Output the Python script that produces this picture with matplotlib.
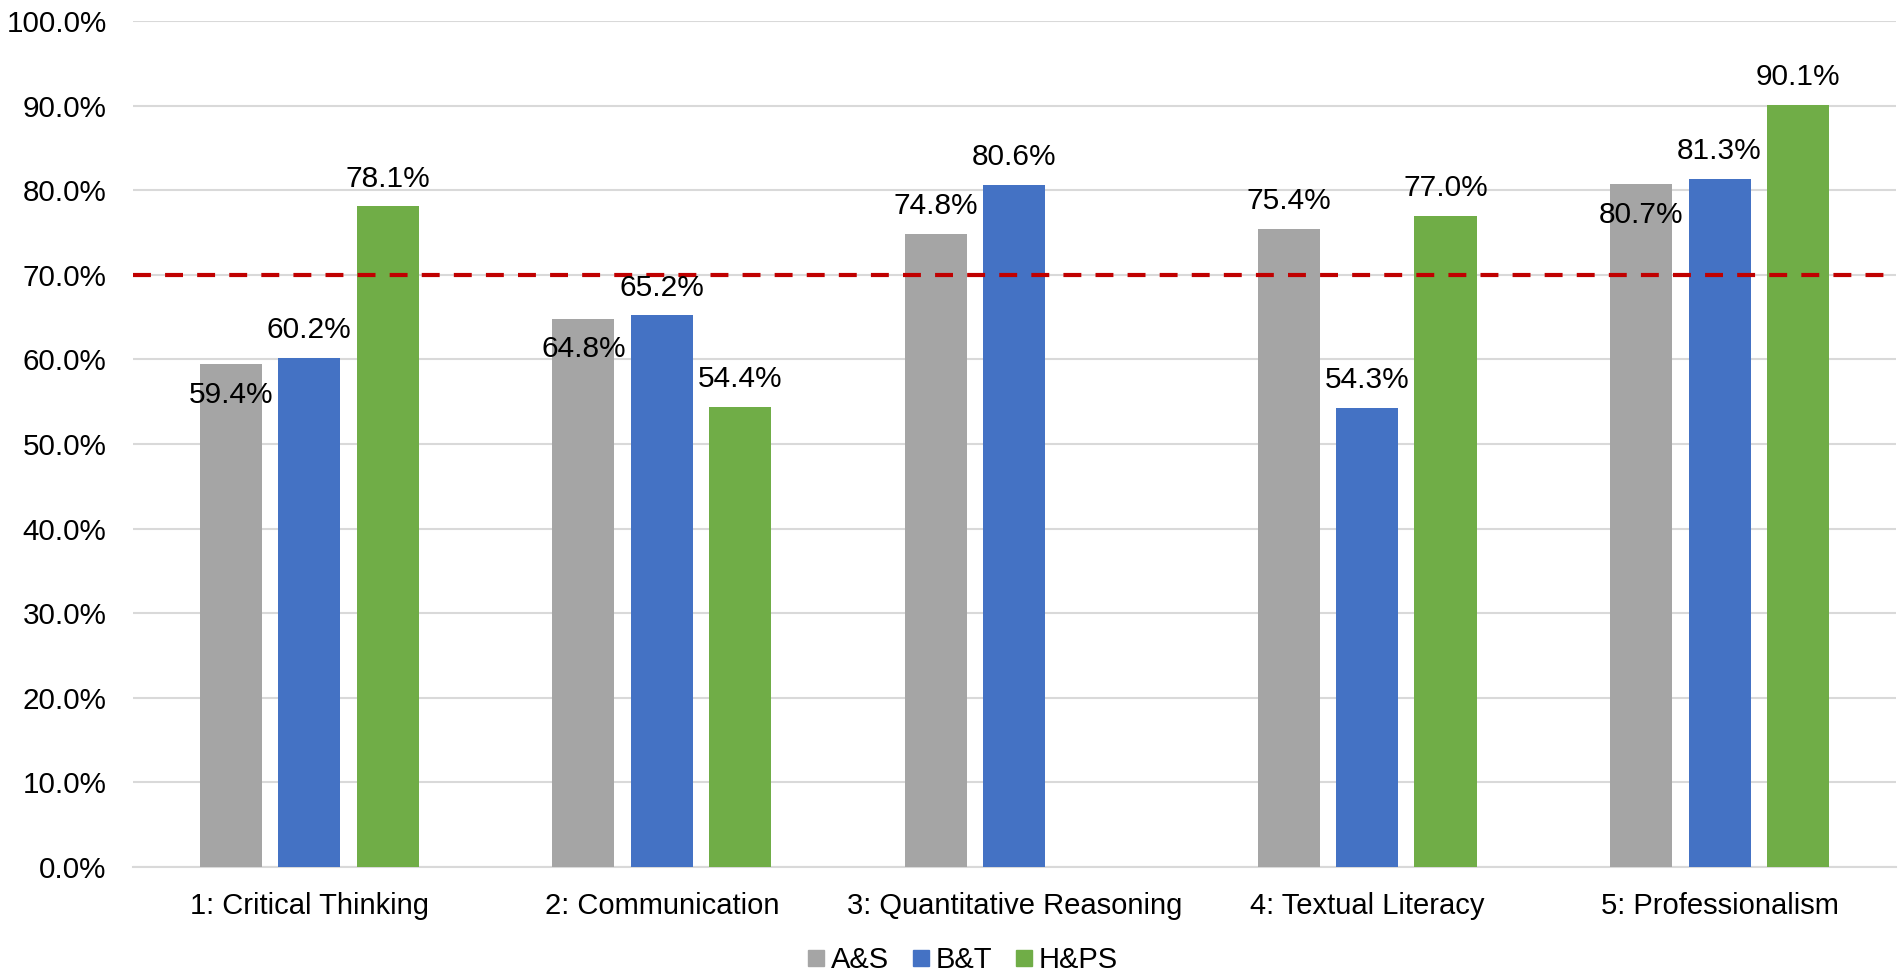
import matplotlib
matplotlib.use('Agg')
import matplotlib.pyplot as plt
import numpy as np

# Data
categories = ["1: Critical Thinking", "2: Communication", "3: Quantitative Reasoning",
              "4: Textual Literacy", "5: Professionalism"]
series_names = ["A&S", "B&T", "H&PS"]
a_s = [59.4, 64.8, 74.8, 75.4, 80.7]
b_t = [60.2, 65.2, 80.6, 54.3, 81.3]
h_ps = [78.1, 54.4, np.nan, 77.0, 90.1]
target = 70.0
yticks = [0, 10, 20, 30, 40, 50, 60, 70, 80, 90, 100]

colors = ["#A5A5A5", "#4472C4", "#70AD47"]
# labels that sit just under the bar top instead of above it
below_labels = {(0, 0), (0, 1), (0, 4)}

plt.rcParams['font.family'] = ['Liberation Sans', 'DejaVu Sans']

fig = plt.figure(figsize=(19.02, 9.74), dpi=100)
ax = fig.add_axes([0.0699, 0.1099, 0.9269, 0.8685])

x = np.arange(len(categories))
step = 0.2226
width = 0.176
for i, (vals, name) in enumerate(zip([a_s, b_t, h_ps], series_names)):
    xs = x + (i - 1) * step
    ax.bar(xs, vals, width=width, color=colors[i], label=name, zorder=3)
    for j, v in enumerate(vals):
        if np.isnan(v):
            continue
        off = -22 if (i, j) in below_labels else 20
        ax.annotate(f"{v:.1f}%", (xs[j], v), xytext=(0, off), textcoords='offset points',
                    ha='center', va='center', fontsize=21.5, color='black', zorder=5)

line = ax.axhline(target, color='#C00000', lw=3, zorder=4)
line.set_dashes((4.3, 3.4))

ax.set_xlim(-0.5, len(categories) - 0.5)
ax.set_ylim(0, 100)
ax.set_yticks(yticks)
ax.set_yticklabels([f"{t:.1f}%" for t in yticks], fontsize=21.3)
ax.set_xticks(x)
ax.set_xticklabels(categories, fontsize=21)
ax.tick_params(axis='both', length=0)
ax.tick_params(axis='x', pad=18)
ax.tick_params(axis='y', pad=19)
ax.grid(axis='y', color='#D9D9D9', lw=1.5, zorder=0)
for s in ['top', 'right', 'left']:
    ax.spines[s].set_visible(False)
ax.spines['bottom'].set_color('#D9D9D9')
ax.spines['bottom'].set_linewidth(1.5)

handles = [plt.Line2D([], [], marker='s', ls='', color=c, markersize=11) for c in colors]
fig.legend(handles, series_names, loc='center', bbox_to_anchor=(0.506, 0.0144), ncol=3,
           frameon=False, fontsize=21, handletextpad=0.2, columnspacing=0.79,
           handlelength=0.6, borderpad=0, borderaxespad=0)

fig.savefig("out.png", dpi=100)
